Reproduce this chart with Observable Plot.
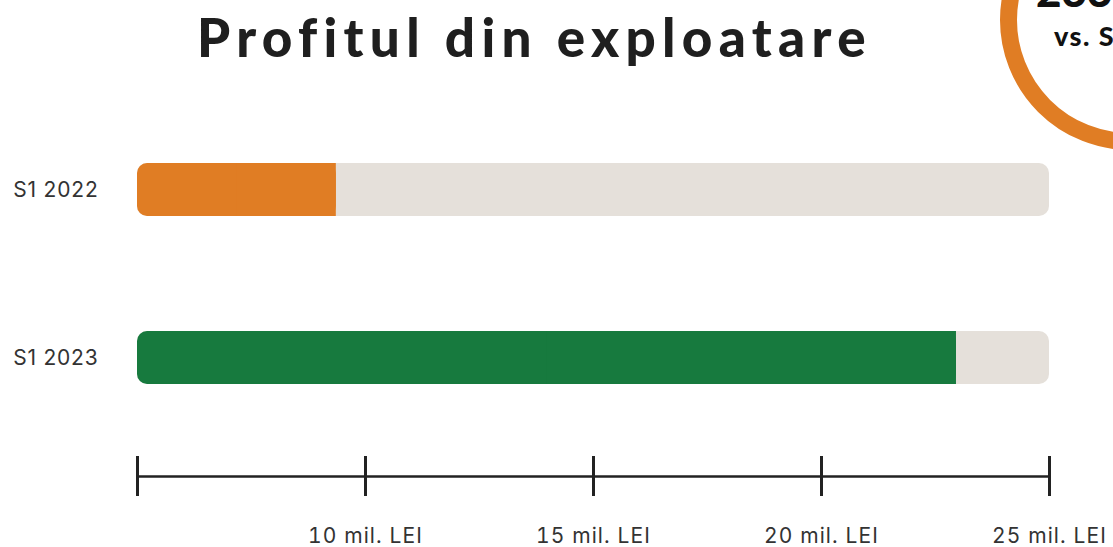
<!DOCTYPE html>
<html>
<head>
<meta charset="utf-8">
<script src="https://cdn.jsdelivr.net/npm/d3@7"></script>
<script src="https://cdn.jsdelivr.net/npm/@observablehq/plot@0.6"></script>
<style>
  html, body { margin: 0; padding: 0; background: #fff; }
  #wrap { position: relative; width: 1113px; height: 547px; overflow: hidden; }
  #title { position: absolute; left: 197px; top: 4px; font-family: Lato, sans-serif; font-weight: 900;
           font-size: 53px; letter-spacing: 6.3px; color: #1f1f1f; white-space: nowrap; line-height: 66px; }
  #chart { position: absolute; left: 0; top: 80px; }
  #badge { position: absolute; left: 0; top: 0; pointer-events: none; }
</style>
</head>
<body>
<div id="wrap">
  <div id="title">Profitul din exploatare</div>
  <div id="chart"></div>
  <svg id="badge" width="1113" height="547"></svg>
</div>
<script>
const categories = ["S1 2022", "S1 2023"];
const values = [9.36, 22.96];           // mil. LEI
const barColors = ["#e07d24", "#177a3e"];
const tickValues = [5, 10, 15, 20, 25];
const tickLabels = ["", "10 mil. LEI", "15 mil. LEI", "20 mil. LEI", "25 mil. LEI"];
const badgeValue = "233%";
const badgeSub = "vs. S1 2022";

const axisMin = tickValues[0];
const axisMax = tickValues[tickValues.length - 1];
const data = categories.map((c, i) => ({cat: c, value: values[i], color: barColors[i]}));
const labelOf = new Map(tickValues.map((t, i) => [t, tickLabels[i]]));

const chart = Plot.plot({
  width: 1113,
  height: 467,
  marginLeft: 137,
  marginRight: 64,
  marginTop: 0,
  marginBottom: 71,
  style: {fontFamily: "Inter, sans-serif", background: "transparent"},
  x: {domain: [axisMin, axisMax]},
  y: {domain: categories, range: [83, 304], paddingInner: 0.685, paddingOuter: 0},
  marks: [
    Plot.barX(data, {y: "cat", x1: () => axisMin, x2: () => axisMax, fill: "#e5e0da", rx: 10}),
    Plot.barX(data, {y: "cat", x1: () => axisMin, x2: "value", fill: "color", rx: 10}),
    Plot.barX(data, {y: "cat", x1: d => (axisMin + d.value) / 2, x2: "value", fill: "color"}),
    Plot.frame({anchor: "bottom", stroke: "#222", strokeWidth: 2.5}),
    Plot.axisX({ticks: tickValues, tickSize: 40, dy: -20, tickPadding: 32, strokeWidth: 3, stroke: "#222",
                tickFormat: d => labelOf.get(d), fontSize: 21, fill: "#333", label: null}),
    Plot.axisY({tickSize: 0, tickPadding: 39, fontSize: 21, fill: "#333", label: null})
  ]
});
chart.querySelectorAll("g[aria-label='x-axis tick label'] text").forEach(t => t.style.letterSpacing = "1.1px");
chart.querySelectorAll("g[aria-label='y-axis tick label'] text").forEach(t => t.style.letterSpacing = "0.8px");
document.getElementById("chart").appendChild(chart);

// decorative badge (top-right)
const badge = d3.select("#badge");
badge.append("circle").attr("cx", 1130).attr("cy", 20).attr("r", 121.5)
  .attr("fill", "#fff").attr("stroke", "#e07d24").attr("stroke-width", 17);
badge.append("text").attr("x", 1036).attr("y", 7).text(badgeValue)
  .attr("font-family", "Lato, sans-serif").attr("font-weight", 900).attr("font-size", 44).attr("fill", "#111");
badge.append("text").attr("x", 1054).attr("y", 46).text(badgeSub)
  .attr("font-family", "Lato, sans-serif").attr("font-weight", 900).attr("font-size", 27)
  .attr("letter-spacing", "1.5px").attr("fill", "#111");
</script>
</body>
</html>
